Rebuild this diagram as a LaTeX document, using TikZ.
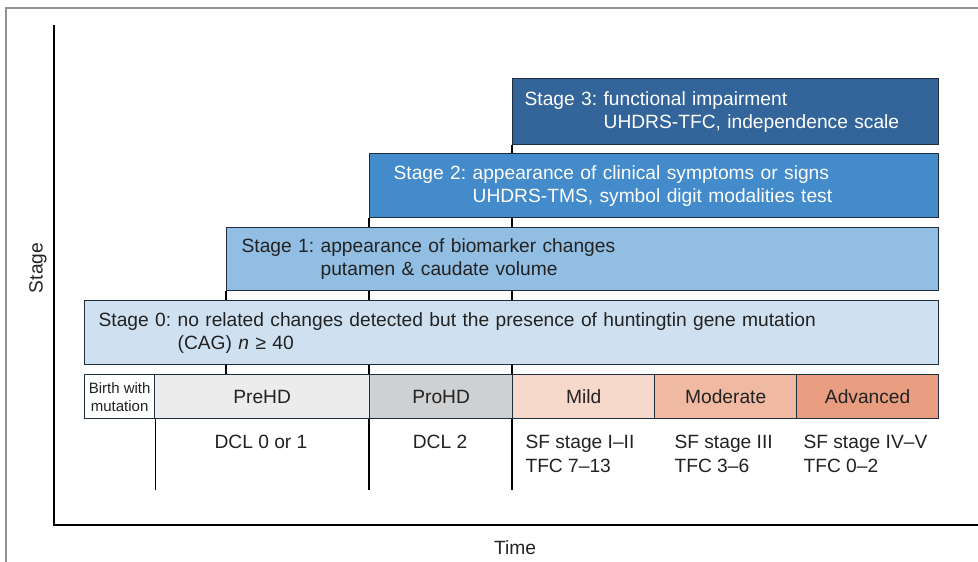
\documentclass[tikz,border=0pt]{standalone}
\usepackage{fontspec}
\setmainfont{Liberation Sans}
\usetikzlibrary{backgrounds}
\frenchspacing

\definecolor{edge}{HTML}{1F2D3D}
\definecolor{ink}{HTML}{222222}
\definecolor{st0}{HTML}{CFE0F1}
\definecolor{st1}{HTML}{93BEE3}
\definecolor{st2}{HTML}{438BCB}
\definecolor{st3}{HTML}{34659A}
\definecolor{pre}{HTML}{ECECEC}
\definecolor{pro}{HTML}{CFD0D2}
\definecolor{mild}{HTML}{F7D9CB}
\definecolor{moder}{HTML}{F0B9A2}
\definecolor{adv}{HTML}{E89D80}

% stage number, first line, indented second line
\newcommand{\stagetxt}[3]{Stage #1: #2\\\phantom{Stage #1: }#3}

\begin{document}
\begin{tikzpicture}[
  x=1pt, y=-1pt,
  stagebox/.style={draw=edge, line width=1.3pt, anchor=north west, align=left,
                   inner ysep=2pt, font=\fontsize{19.2}{23}\selectfont},
  cell/.style={draw=edge, line width=1.3pt, anchor=north west, inner sep=0pt,
               minimum height=44pt, text=ink, font=\fontsize{19.2}{23}\selectfont},
  note/.style={text=ink, align=left, font=\fontsize{19.2}{24}\selectfont},
  guide/.style={line width=1.3pt, color=black}
]
  \useasboundingbox (0,0) rectangle (978,562);

  % frame and axes
  \draw[color=gray!85, line width=1.2pt] (6,562) -- (6,8) -- (978,8);
  \coordinate (origin) at (54,525);
  \coordinate (ytop) at (54,25);
  \coordinate (xend) at (978,525);
  \coordinate (lo) at (0,490);
  \draw[line width=1.5pt] (ytop) -- (origin) -- (xend);

  % stages
  \node[stagebox, fill=st3, text=white, inner xsep=12pt, text width=402pt, minimum height=66pt]
    (s3) at (512,78) {\stagetxt{3}{functional impairment}{UHDRS-TFC, independence scale}};
  \node[stagebox, fill=st2, text=white, inner xsep=24pt, text width=521pt, minimum height=64pt]
    (s2) at (369,153) {\stagetxt{2}{appearance of clinical symptoms or signs}{UHDRS-TMS, symbol digit modalities test}};
  \node[stagebox, fill=st1, text=ink, inner xsep=15pt, text width=682pt, minimum height=63pt]
    (s1) at (226,227) {\stagetxt{1}{appearance of biomarker changes}{putamen \& caudate volume}};
  \node[stagebox, fill=st0, text=ink, inner xsep=14pt, text width=826pt, minimum height=64pt]
    (s0) at (84,300) {\stagetxt{0}{no related changes detected but the presence of huntingtin gene mutation}{(CAG) \textit{n} ≥ 40}};

  % clinical phases
  \node[cell, fill=white, minimum width=70pt, align=center,
        font=\fontsize{15}{18}\selectfont] (birth) at (84,374) {Birth with\\mutation};
  \node[cell, fill=pre, minimum width=215pt] (prehd) at (154,374) {PreHD};
  \node[cell, fill=pro, minimum width=143pt] (prohd) at (369,374) {ProHD};
  \node[cell, fill=mild, minimum width=142pt] (mild) at (512,374) {Mild};
  \node[cell, fill=moder, minimum width=142pt] (moder) at (654,374) {Moderate};
  \node[cell, fill=adv, minimum width=142pt] (adv) at (796,374) {Advanced};

  \begin{pgfonlayer}{background}
    \draw[guide] (s1.south west) -- (s1.south west |- prehd.north);
    \draw[guide] (s2.south west) -- (s2.south west |- lo);
    \draw[guide] (s3.south west) -- (s3.south west |- lo);
    \draw[guide] (birth.south east) -- (birth.south east |- lo);
  \end{pgfonlayer}

  % scores below each phase
  \node[note] (dcl01) at (261,442) {DCL 0 or 1};
  \node[note] (dcl2) at (440,442) {DCL 2};
  \node[note, anchor=west] (sfmild) at (522,454) {SF stage I--II\\TFC 7--13};
  \node[note, anchor=west] (sfmod) at (671,454) {SF stage III\\TFC 3--6};
  \node[note, anchor=west] (sfadv) at (800,454) {SF stage IV--V\\TFC 0--2};

  % axis labels
  \node[note, rotate=90] (ylab) at (38,268) {Stage};
  \node[note] (xlab) at (515,548) {Time};
\end{tikzpicture}
\end{document}
